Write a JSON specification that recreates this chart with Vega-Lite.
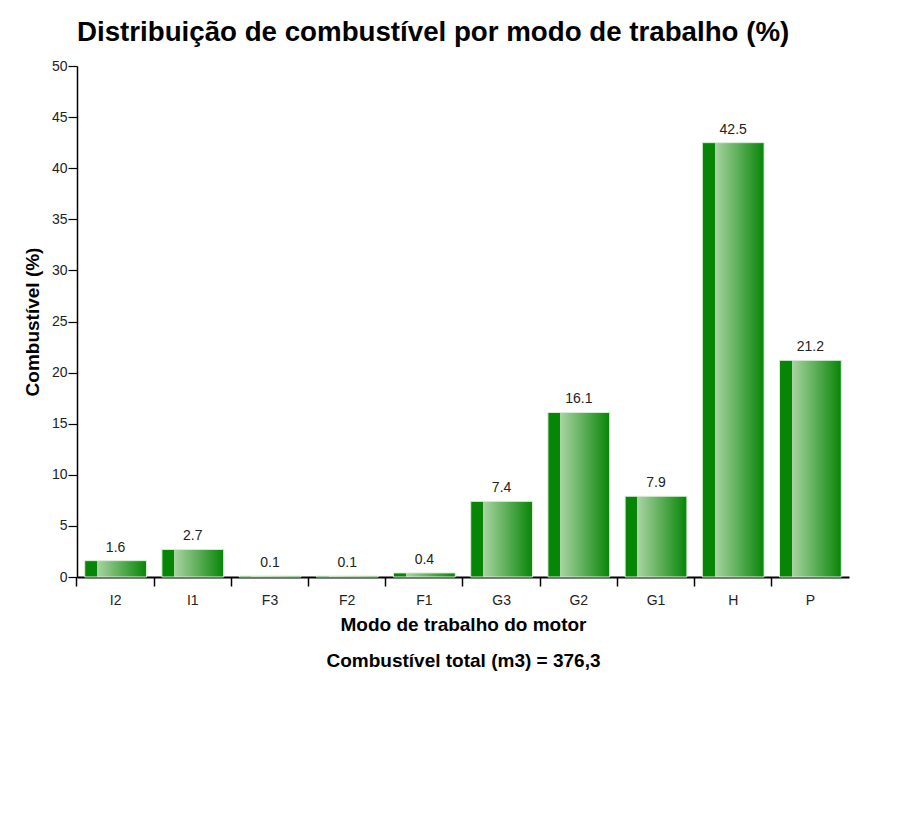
{
  "$schema": "https://vega.github.io/schema/vega-lite/v6.json",
  "autosize": {"type": "none"},
  "width": 772,
  "height": 511,
  "padding": {"left": 77, "top": 66, "right": 61, "bottom": 249},
  "background": "white",
  "title": {
    "text": "Distribuição de combustível por modo de trabalho (%)",
    "anchor": "start",
    "frame": "group",
    "font": "Liberation Sans",
    "fontSize": 27.7,
    "fontWeight": "bold",
    "color": "#000000",
    "offset": 12
  },
  "config": {
    "view": {"stroke": null},
    "axis": {"grid": false, "labelFont": "Liberation Sans", "titleFont": "Liberation Sans", "labelColor": "#222222", "titleColor": "#000000", "domainColor": "#000000", "tickColor": "#000000"}
  },
  "data": {
    "values": [
      {"modo": "I2", "pct": 1.6},
      {"modo": "I1", "pct": 2.7},
      {"modo": "F3", "pct": 0.1},
      {"modo": "F2", "pct": 0.1},
      {"modo": "F1", "pct": 0.4},
      {"modo": "G3", "pct": 7.4},
      {"modo": "G2", "pct": 16.1},
      {"modo": "G1", "pct": 7.9},
      {"modo": "H", "pct": 42.5},
      {"modo": "P", "pct": 21.2}
    ]
  },
  "encoding": {
    "x": {
      "field": "modo",
      "type": "nominal",
      "sort": null,
      "scale": {"paddingInner": 0.2, "paddingOuter": 0.1},
      "axis": {
        "title": ["Modo de trabalho do motor", "Combustível total (m3) = 376,3"],
        "titleFontSize": 19,
        "titleFontWeight": "bold",
        "titleLineHeight": 36,
        "titlePadding": 8,
        "labelAngle": 0,
        "labelFontSize": 14,
        "labelPadding": 7,
        "tickSize": 9,
        "bandPosition": -0.125,
        "domainWidth": 2,
        "tickWidth": 1.5
      }
    },
    "y": {
      "field": "pct",
      "type": "quantitative",
      "scale": {"domain": [0, 50], "nice": false},
      "axis": {
        "title": "Combustível (%)",
        "titleFontSize": 19,
        "titleFontWeight": "bold",
        "titlePadding": 9,
        "values": [0, 5, 10, 15, 20, 25, 30, 35, 40, 45, 50],
        "labelFontSize": 14,
        "labelPadding": 1,
        "tickSize": 9,
        "domainWidth": 1.5,
        "tickWidth": 1.2
      }
    }
  },
  "layer": [
    {
      "mark": {
        "type": "bar",
        "stroke": "#d9eed6",
        "strokeWidth": 1,
        "fill": {
          "gradient": "linear",
          "x1": 0, "x2": 1, "y1": 0, "y2": 0,
          "stops": [
            {"offset": 0, "color": "#078507"},
            {"offset": 0.2, "color": "#078507"},
            {"offset": 0.2, "color": "#aad4a3"},
            {"offset": 1, "color": "#078507"}
          ]
        }
      }
    },
    {
      "mark": {"type": "text", "baseline": "bottom", "dy": -6, "font": "Liberation Sans", "fontSize": 14, "color": "#222222"},
      "encoding": {"text": {"field": "pct", "type": "quantitative", "format": ".1f"}}
    }
  ]
}
